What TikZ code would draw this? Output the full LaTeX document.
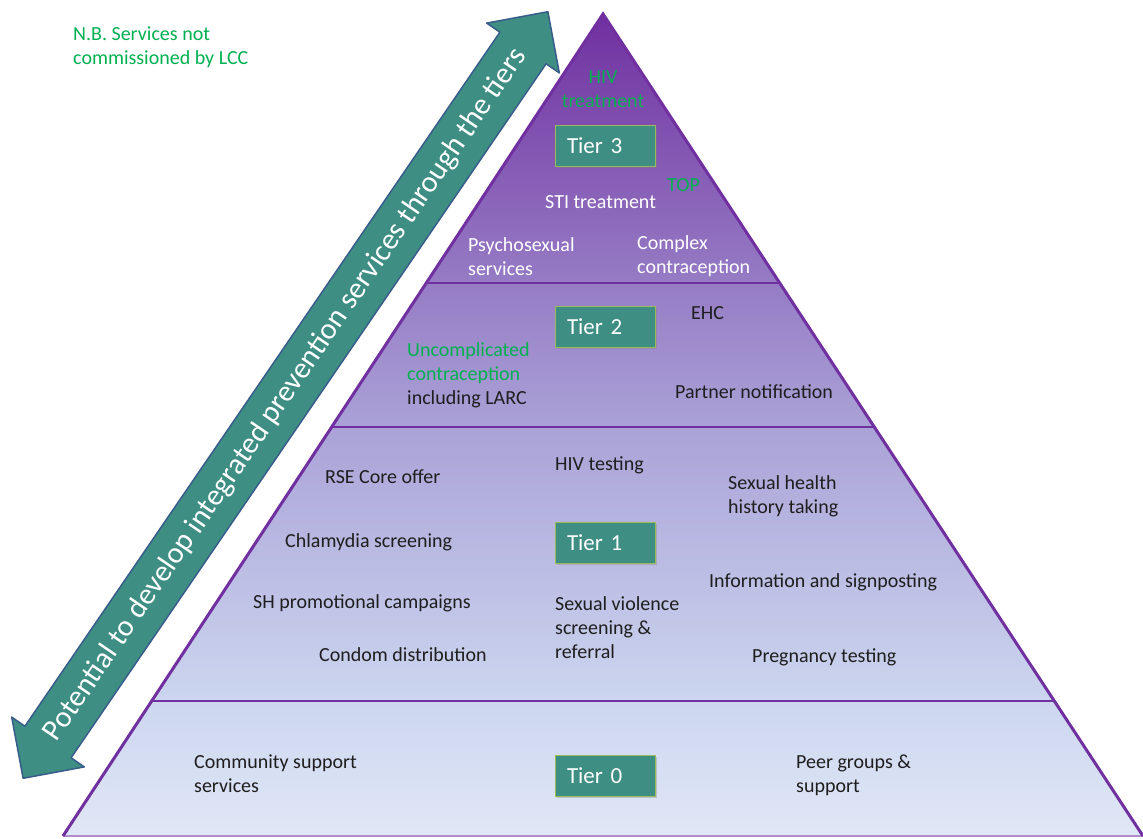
\documentclass[tikz,border=0pt]{standalone}
\usepackage{fontspec}
\setmainfont{Carlito}
\usetikzlibrary{calc,shadows}

\definecolor{pyramidpurple}{RGB}{112,48,160}
\definecolor{pyramidupper}{RGB}{150,124,197}
\definecolor{pyramidmid}{RGB}{170,162,215}
\definecolor{pyramidlower}{RGB}{204,214,239}
\definecolor{pyramidpale}{RGB}{224,231,246}
\definecolor{tierteal}{RGB}{62,142,131}
\definecolor{tieredge}{RGB}{155,187,89}
\definecolor{arrowedge}{RGB}{56,93,138}
\definecolor{nbgreen}{RGB}{0,176,80}
\definecolor{servicetext}{RGB}{30,30,30}

% purple at the apex, pale blue at the base
\pgfdeclareverticalshading{pyramidfade}{100bp}{color(0bp)=(pyramidpale); color(25bp)=(pyramidpale); color(33.2bp)=(pyramidlower); color(49.9bp)=(pyramidmid); color(58.6bp)=(pyramidupper); color(75bp)=(pyramidpurple); color(100bp)=(pyramidpurple)}

\tikzset{
	service/.style={anchor=base west, inner sep=0pt, align=left, text=servicetext, font=\fontsize{20}{24}\selectfont},
	tierbox/.style={draw=tieredge, line width=1pt, fill=tierteal, text=white, font=\fontsize{23}{27}\selectfont, minimum height=41pt, text width=76pt, inner xsep=12pt, align=left, drop shadow={shadow xshift=2pt, shadow yshift=-2pt, opacity=0.35}},
	tierline/.style={pyramidpurple, line width=2.5pt},
}

\begin{document}
\begin{tikzpicture}[x=1pt,y=-1pt]
		\useasboundingbox (0,0) rectangle (1143,838);

		% pyramid
		\coordinate (apex) at (603,14);
		\coordinate (bl) at (63,836);
		\coordinate (br) at (1143,836);
		\shade[shading=pyramidfade] (apex) -- (bl) -- (br) -- cycle;
		\draw[pyramidpurple!55, line width=1.5pt] (bl) -- (br);
		\draw[tierline, line width=3pt] (bl) -- (apex) -- (br);
		\foreach \t in {0.3273,0.5024,0.8358}
			\draw[tierline] ($(apex)!\t!(bl)$) -- ($(apex)!\t!(br)$);

		% double arrow
		\draw[arrowedge, fill=tierteal, line width=1.5pt, line join=round] (547.9,11.7) -- (559.3,72.9) -- (546.1,63.8) -- (71.1,757.8) -- (84.3,766.9) -- (23.1,778.3) -- (11.7,717.1) -- (24.9,726.2) -- (499.9,32.2) -- (486.7,23.1) -- cycle;
		\node[rotate=55.6, text=white, font=\fontsize{30}{36}\selectfont, inner sep=0pt] (potential) at (285.5,395) {Potential to develop integrated prevention services through the tiers};

		\node[service, text=nbgreen] (nb) at (73,64) {N.B. Services not\\commissioned by LCC};

		\foreach \y/\n in {145.5/3,326.5/2,542.5/1,775.5/0}
			\node[tierbox] (tier\n) at (605,\y) {Tier \n};

		% tier 3
		\node[service, anchor=base, align=center, text=nbgreen] (hivtreat) at (603,107) {HIV\\treatment};
		\node[service, text=nbgreen] (top) at (667,191) {TOP};
		\node[service, text=white] (sti) at (545,208) {STI treatment};
		\node[service, text=white] (psycho) at (468,275) {Psychosexual\\services};
		\node[service, text=white] (complex) at (637,273) {Complex\\contraception};

		% tier 2
		\node[service] (ehc) at (691,319) {EHC};
		\node[service] (uncomp) at (407,404) {\textcolor{nbgreen}{Uncomplicated}\\\textcolor{nbgreen}{contraception}\\including LARC};
		\node[service] (partner) at (675,398) {Partner notification};

		% tier 1
		\node[service] (rse) at (325,483) {RSE Core offer};
		\node[service] (hivtest) at (555,470) {HIV testing};
		\node[service] (history) at (728,513) {Sexual health\\history taking};
		\node[service] (chlamydia) at (285,547) {Chlamydia screening};
		\node[service] (info) at (709,587) {Information and signposting};
		\node[service] (campaigns) at (253,608) {SH promotional campaigns};
		\node[service] (violence) at (555,658) {Sexual violence\\screening \&\\referral};
		\node[service] (condom) at (319,661) {Condom distribution};
		\node[service] (pregnancy) at (752,662) {Pregnancy testing};

		% tier 0
		\node[service] (community) at (194,792) {Community support\\services};
		\node[service] (peer) at (796,792) {Peer groups \&\\support};
	\end{tikzpicture}
\end{document}
